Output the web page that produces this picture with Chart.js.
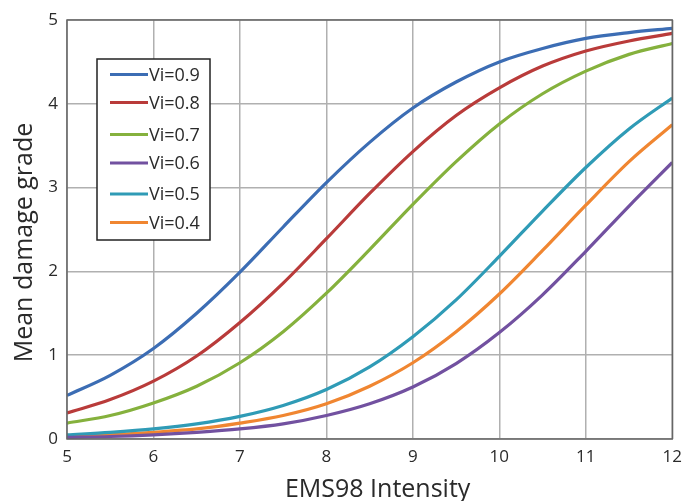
<!DOCTYPE html>
<html>
<head>
<meta charset="utf-8">
<script src="https://cdn.jsdelivr.net/npm/chart.js@4"></script>
<style>
  html, body { margin: 0; padding: 0; background: #fff; }
  #wrap { width: 690px; height: 501px; }
</style>
</head>
<body>
<div id="wrap"><canvas id="damageChart" width="690" height="501"></canvas></div>
<script>
// EMS98 intensity samples
const intensity = [5, 5.5, 6, 6.5, 7, 7.5, 8, 8.5, 9, 9.5, 10, 10.5, 11, 11.5, 12];

// mean damage grade
const vi09 = [0.52, 0.76, 1.08, 1.50, 1.99, 2.53, 3.06, 3.54, 3.95, 4.26, 4.50, 4.66, 4.78, 4.85, 4.90];
const vi08 = [0.31, 0.47, 0.69, 0.99, 1.39, 1.86, 2.39, 2.93, 3.43, 3.86, 4.19, 4.45, 4.63, 4.75, 4.84];
const vi07 = [0.19, 0.28, 0.43, 0.63, 0.91, 1.28, 1.74, 2.26, 2.80, 3.31, 3.76, 4.12, 4.39, 4.59, 4.72];
const vi06 = [0.02, 0.03, 0.05, 0.08, 0.12, 0.18, 0.28, 0.42, 0.62, 0.90, 1.27, 1.72, 2.24, 2.78, 3.30];
const vi05 = [0.05, 0.08, 0.12, 0.18, 0.27, 0.40, 0.59, 0.86, 1.22, 1.66, 2.18, 2.72, 3.24, 3.70, 4.07];
const vi04 = [0.03, 0.05, 0.08, 0.12, 0.19, 0.28, 0.42, 0.63, 0.91, 1.28, 1.73, 2.25, 2.79, 3.31, 3.75];

const seriesLabels = ['Vi=0.9', 'Vi=0.8', 'Vi=0.7', 'Vi=0.6', 'Vi=0.5', 'Vi=0.4'];
const seriesValues = [vi09, vi08, vi07, vi06, vi05, vi04];
const seriesColors = ['#3c6db4', '#b93b3a', '#85b13d', '#7251a0', '#2f9bb6', '#f08631'];

const xTicks = [5, 6, 7, 8, 9, 10, 11, 12];
const yTicks = [0, 1, 2, 3, 4, 5];
const xTitle = 'EMS98 Intensity';
const yTitle = 'Mean damage grade';

const FONT = "'Open Sans', 'Noto Sans', sans-serif";
const TEXT = '#2a2a2a';

const datasets = seriesLabels.map((lbl, i) => ({
    label: lbl,
    data: intensity.map((x, j) => ({ x: x, y: seriesValues[i][j] })),
    borderColor: seriesColors[i],
    backgroundColor: seriesColors[i],
    borderWidth: 3.2,
    pointRadius: 0,
    cubicInterpolationMode: 'monotone',
    fill: false
}));

// frame, axis titles and legend box drawn by hand, like the original
const framePlugin = {
    id: 'frameLegend',
    afterDraw(chart) {
        const ctx = chart.ctx;
        const a = chart.chartArea;
        ctx.save();
        ctx.strokeStyle = '#666';
        ctx.lineWidth = 1.5;
        ctx.strokeRect(a.left, a.top, a.right - a.left, a.bottom - a.top);

        // axis titles
        ctx.fillStyle = TEXT;
        ctx.font = '25px ' + FONT;
        ctx.textAlign = 'center';
        ctx.textBaseline = 'alphabetic';
        ctx.fillText(xTitle, a.left + (a.right - a.left) / 2 + 8, 497);
        ctx.save();
        ctx.translate(32, a.top + (a.bottom - a.top) / 2 + 13);
        ctx.rotate(-Math.PI / 2);
        ctx.fillText(yTitle, 0, 0);
        ctx.restore();

        // legend box
        const bx = a.left + 30, by = a.top + 39, bw = 113, bh = 181;
        ctx.fillStyle = '#fff';
        ctx.fillRect(bx, by, bw, bh);
        ctx.strokeStyle = '#222';
        ctx.lineWidth = 1.5;
        ctx.strokeRect(bx, by, bw, bh);
        const rows = [15.5, 43.5, 75.5, 104, 135, 163.5];
        ctx.font = '18px ' + FONT;
        ctx.textBaseline = 'middle';
        ctx.textAlign = 'left';
        chart.data.datasets.forEach((ds, i) => {
            const y = by + rows[i];
            ctx.strokeStyle = ds.borderColor;
            ctx.lineWidth = 3.2;
            ctx.beginPath();
            ctx.moveTo(bx + 13, y);
            ctx.lineTo(bx + 51, y);
            ctx.stroke();
            ctx.fillStyle = TEXT;
            ctx.fillText(ds.label, bx + 52, y + 1);
        });
        ctx.restore();
    }
};

new Chart(document.getElementById('damageChart'), {
    type: 'line',
    data: { datasets: datasets },
    plugins: [framePlugin],
    options: {
        responsive: false,
        animation: false,
        layout: { padding: { top: 20, right: 11, left: 0, bottom: 0 } },
        plugins: {
            legend: { display: false },
            tooltip: { enabled: false }
        },
        scales: {
            x: {
                type: 'linear',
                min: 5,
                max: 12,
                afterBuildTicks: (s) => { s.ticks = xTicks.map(v => ({ value: v })); },
                afterFit: (s) => { s.height = 62; },
                grid: { color: '#b0b0b0', lineWidth: 1.5, drawTicks: false },
                border: { display: false },
                ticks: { color: TEXT, font: { family: FONT, size: 17 }, padding: 8 },
                title: { display: false }
            },
            y: {
                min: 0,
                max: 5,
                afterBuildTicks: (s) => { s.ticks = yTicks.map(v => ({ value: v })); },
                afterFit: (s) => { s.width = 67; },
                grid: { color: '#b0b0b0', lineWidth: 1.5, drawTicks: false },
                border: { display: false },
                ticks: { color: TEXT, font: { family: FONT, size: 17 }, padding: 9 },
                title: { display: false }
            }
        }
    }
});
</script>
</body>
</html>
